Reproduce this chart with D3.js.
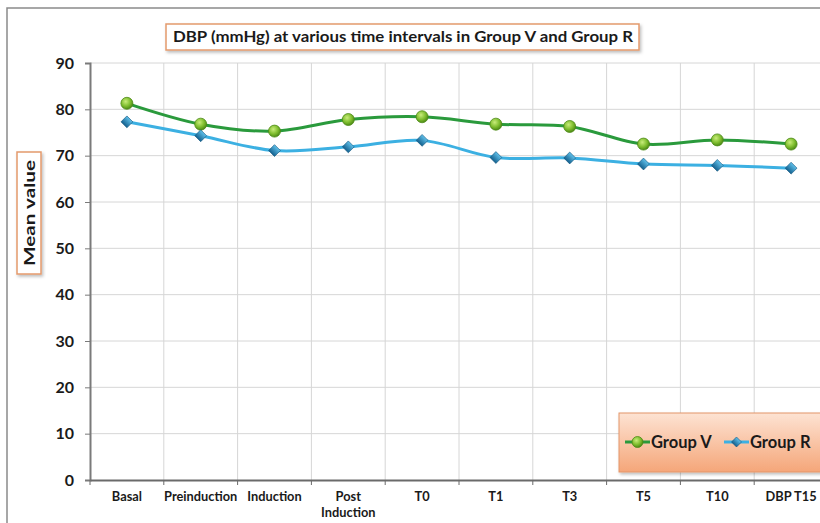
<!DOCTYPE html>
<html>
<head>
<meta charset="utf-8">
<script src="https://cdn.jsdelivr.net/npm/d3@7"></script>
<style>
  body { margin: 0; background: #fff; }
  text { font-family: Lato, "Open Sans", sans-serif; font-weight: bold; fill: #1a1a1a; }
</style>
</head>
<body>
<div id="chart"></div>
<script>
// Data
const categories = ['Basal', 'Preinduction', 'Induction', 'Post Induction', 'T0', 'T1', 'T3', 'T5', 'T10', 'DBP T15'];
const groupV = [81.3, 76.8, 75.3, 77.8, 78.4, 76.8, 76.3, 72.5, 73.4, 72.5];
const groupR = [77.3, 74.3, 71.1, 71.9, 73.3, 69.6, 69.5, 68.2, 67.9, 67.3];
const yTicks = [0, 10, 20, 30, 40, 50, 60, 70, 80, 90];

const width = 820, height = 523;
const plot = { left: 90, right: 828, top: 63, bottom: 480 };

const svg = d3.select('#chart').append('svg')
    .attr('width', width)
    .attr('height', height);

const defs = svg.append('defs');

const gV = defs.append('radialGradient').attr('id', 'gradV')
    .attr('cx', '40%').attr('cy', '35%').attr('r', '65%');
gV.append('stop').attr('offset', '0%').attr('stop-color', '#c8ec7a');
gV.append('stop').attr('offset', '60%').attr('stop-color', '#7ebd2e');
gV.append('stop').attr('offset', '100%').attr('stop-color', '#4d8a16');

const gR = defs.append('linearGradient').attr('id', 'gradR')
    .attr('x1', '0%').attr('y1', '0%').attr('x2', '0%').attr('y2', '100%');
gR.append('stop').attr('offset', '0%').attr('stop-color', '#5fc0ea');
gR.append('stop').attr('offset', '100%').attr('stop-color', '#14618f');

const gLeg = defs.append('linearGradient').attr('id', 'gradLeg')
    .attr('x1', '0%').attr('y1', '0%').attr('x2', '0%').attr('y2', '100%');
gLeg.append('stop').attr('offset', '0%').attr('stop-color', '#fde3d3');
gLeg.append('stop').attr('offset', '100%').attr('stop-color', '#f5a679');

const shadow = defs.append('filter').attr('id', 'shadow')
    .attr('x', '-10%').attr('y', '-10%').attr('width', '130%').attr('height', '140%');
shadow.append('feDropShadow').attr('dx', 1.5).attr('dy', 2).attr('stdDeviation', 1.5)
    .attr('flood-color', '#000').attr('flood-opacity', 0.25);

// Outer chart frame
svg.append('path')
    .attr('d', `M7,${height} V8 H${width}`)
    .attr('fill', 'none')
    .attr('stroke', '#8a8a8a')
    .attr('stroke-width', 1.5);

// Scales
const x = d3.scaleBand()
    .domain(categories)
    .range([plot.left, plot.right]);

const y = d3.scaleLinear()
    .domain([0, 90])
    .range([plot.bottom, plot.top]);

// Gridlines
svg.append('g')
  .selectAll('line')
  .data(yTicks.slice(1))
  .join('line')
    .attr('x1', plot.left).attr('x2', plot.right)
    .attr('y1', d => y(d)).attr('y2', d => y(d))
    .attr('stroke', '#d6d6d6');

svg.append('g')
  .selectAll('line')
  .data(categories.slice(1))
  .join('line')
    .attr('x1', d => x(d)).attr('x2', d => x(d))
    .attr('y1', plot.top).attr('y2', plot.bottom)
    .attr('stroke', '#d6d6d6');

// Y axis
const yAxis = svg.append('g')
    .attr('transform', `translate(${plot.left},0)`)
    .call(d3.axisLeft(y).tickValues(yTicks).tickSize(5).tickPadding(11));
yAxis.select('.domain').attr('stroke', '#7a7a7a').attr('stroke-width', 2);
yAxis.selectAll('.tick line').attr('stroke', '#7a7a7a');
yAxis.selectAll('.tick text')
    .attr('font-size', 16)
    .attr('font-family', '"Open Sans", sans-serif')
    .attr('fill', '#1a1a1a');

// X axis
const xAxis = svg.append('g')
    .attr('transform', `translate(0,${plot.bottom})`)
    .call(d3.axisBottom(x).tickSize(0).tickFormat(''));
xAxis.select('.domain').attr('stroke', '#6a6a6a').attr('stroke-width', 2);

svg.append('g')
  .selectAll('line')
  .data(categories)
  .join('line')
    .attr('x1', d => x(d)).attr('x2', d => x(d))
    .attr('y1', plot.bottom).attr('y2', plot.bottom + 5)
    .attr('stroke', '#6a6a6a');

svg.append('g')
  .selectAll('text')
  .data(categories)
  .join('text')
    .attr('x', d => x(d) + x.bandwidth() / 2)
    .attr('y', 501)
    .attr('text-anchor', 'middle')
    .attr('font-size', 12.8)
    .each(function(d) {
      const words = d === 'Post Induction' ? ['Post', 'Induction'] : [d];
      d3.select(this).selectAll('tspan')
        .data(words)
        .join('tspan')
          .attr('x', x(d) + x.bandwidth() / 2)
          .attr('dy', (w, i) => i === 0 ? 0 : 16)
          .text(w => w);
    });

// Lines
const line = d3.line()
    .x((d, i) => x(categories[i]) + x.bandwidth() / 2)
    .y(d => y(d))
    .curve(d3.curveCatmullRom.alpha(0));

svg.append('path')
    .datum(groupV)
    .attr('d', line)
    .attr('fill', 'none')
    .attr('stroke', '#2a9a3c')
    .attr('stroke-width', 3);

svg.append('path')
    .datum(groupR)
    .attr('d', line)
    .attr('fill', 'none')
    .attr('stroke', '#3cb0e2')
    .attr('stroke-width', 3);

// Markers
svg.append('g')
  .selectAll('circle')
  .data(groupV)
  .join('circle')
    .attr('cx', (d, i) => x(categories[i]) + x.bandwidth() / 2)
    .attr('cy', d => y(d))
    .attr('r', 6)
    .attr('fill', 'url(#gradV)')
    .attr('stroke', '#4d8a16')
    .attr('stroke-width', 0.8);

svg.append('g')
  .selectAll('path')
  .data(groupR)
  .join('path')
    .attr('transform', (d, i) => `translate(${x(categories[i]) + x.bandwidth() / 2},${y(d)}) rotate(45)`)
    .attr('d', d3.symbol().type(d3.symbolSquare).size(70))
    .attr('fill', 'url(#gradR)')
    .attr('stroke', '#12557e')
    .attr('stroke-width', 0.6);

// Title box
svg.append('rect')
    .attr('x', 166).attr('y', 24)
    .attr('width', 473).attr('height', 26)
    .attr('fill', '#fff')
    .attr('stroke', '#e49a6c')
    .attr('stroke-width', 1.5)
    .attr('filter', 'url(#shadow)');
svg.append('text')
    .attr('x', 403).attr('y', 42)
    .attr('text-anchor', 'middle')
    .attr('font-size', 15)
    .attr('font-family', '"Open Sans", sans-serif')
    .attr('textLength', 460)
    .attr('lengthAdjust', 'spacingAndGlyphs')
    .text('DBP (mmHg) at various time intervals in Group V and Group R');

// Y axis title box
svg.append('rect')
    .attr('x', 17).attr('y', 152)
    .attr('width', 24).attr('height', 122)
    .attr('fill', '#fff')
    .attr('stroke', '#e49a6c')
    .attr('stroke-width', 1.5)
    .attr('filter', 'url(#shadow)');
svg.append('text')
    .attr('transform', 'translate(35,213) rotate(-90)')
    .attr('text-anchor', 'middle')
    .attr('font-size', 16)
    .attr('font-family', '"Open Sans", sans-serif')
    .attr('textLength', 106)
    .attr('lengthAdjust', 'spacingAndGlyphs')
    .text('Mean value');

// Legend
const legend = svg.append('g');
legend.append('rect')
    .attr('x', 619).attr('y', 413)
    .attr('width', 215).attr('height', 59)
    .attr('fill', 'url(#gradLeg)')
    .attr('stroke', '#e3956a')
    .attr('stroke-width', 1)
    .attr('filter', 'url(#shadow)');

legend.append('line')
    .attr('x1', 625).attr('x2', 650).attr('y1', 442).attr('y2', 442)
    .attr('stroke', '#2a9a3c').attr('stroke-width', 3);
legend.append('circle')
    .attr('cx', 637.5).attr('cy', 442).attr('r', 5.5)
    .attr('fill', 'url(#gradV)').attr('stroke', '#4d8a16').attr('stroke-width', 0.8);
legend.append('text')
    .attr('x', 651).attr('y', 448)
    .attr('font-size', 16.5)
    .text('Group V');

legend.append('line')
    .attr('x1', 724).attr('x2', 749).attr('y1', 442).attr('y2', 442)
    .attr('stroke', '#3cb0e2').attr('stroke-width', 3);
legend.append('path')
    .attr('transform', 'translate(736.5,442) rotate(45)')
    .attr('d', d3.symbol().type(d3.symbolSquare).size(50))
    .attr('fill', 'url(#gradR)').attr('stroke', '#12557e').attr('stroke-width', 0.6);
legend.append('text')
    .attr('x', 750).attr('y', 448)
    .attr('font-size', 16.5)
    .text('Group R');
</script>
</body>
</html>
